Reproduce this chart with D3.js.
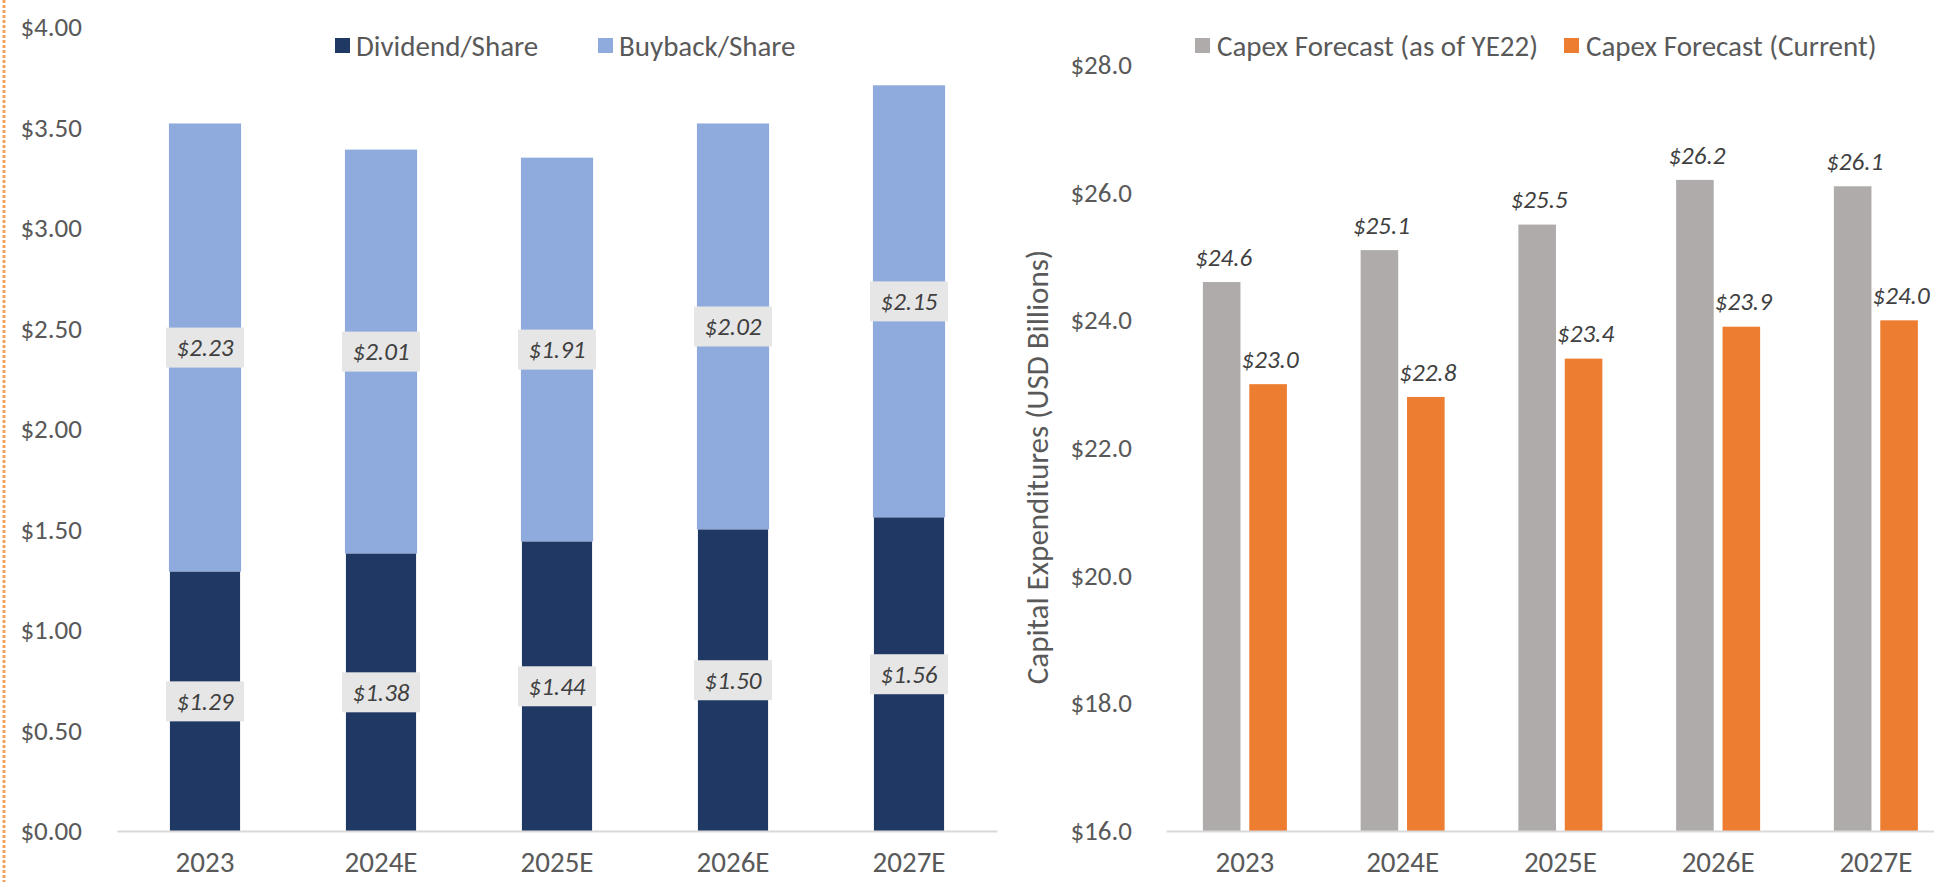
<!DOCTYPE html>
<html>
<head>
<meta charset="utf-8">
<script src="https://cdn.jsdelivr.net/npm/d3@7"></script>
<style>
  body { margin: 0; background: #fff; }
  svg { display: block; font-family: Carlito, Calibri, Lato, "Open Sans", sans-serif; }
</style>
</head>
<body>
<div id="chart"></div>
<script>
// data
const years = ["2023", "2024E", "2025E", "2026E", "2027E"];
const dividend = [1.29, 1.38, 1.44, 1.50, 1.56];
const buyback = [2.23, 2.01, 1.91, 2.02, 2.15];
const capexYE22 = [24.6, 25.1, 25.5, 26.2, 26.1];
const capexCurrent = [23.0, 22.8, 23.4, 23.9, 24.0];
const leftTicks = [0, 0.5, 1, 1.5, 2, 2.5, 3, 3.5, 4];
const rightTicks = [16, 18, 20, 22, 24, 26, 28];

const W = 1934, H = 882;
const textColor = "#595959";
const labelColor = "#404040";
const axisColor = "#d9d9d9";
const colors = {
    dividend: "#203864",
    buyback: "#8faadc",
    ye22: "#afabab",
    current: "#ed7d31"
};

const svg = d3.select("#chart").append("svg")
    .attr("width", W)
    .attr("height", H);

// dotted orange line at the left edge
svg.append("line")
    .attr("x1", 4).attr("x2", 4)
    .attr("y1", 0).attr("y2", H)
    .attr("stroke", "#f5a25d")
    .attr("stroke-width", 3)
    .attr("stroke-dasharray", "3,2");

const baseY = 831;

// axis text styling, drops d3's default font
function styleAxis(g, size) {
    g.attr("font-family", null).attr("font-size", null);
    g.selectAll("text")
        .style("font-size", size + "px")
        .attr("fill", textColor);
}

// ====================
// Left chart: stacked bars
// ====================
const xL = d3.scaleBand()
    .domain(years)
    .range([117, 997])
    .paddingInner(0.59)
    .paddingOuter(0.295);

const yL = d3.scaleLinear()
    .domain([0, 4])
    .range([baseY, 27]);

const left = svg.append("g");

// y axis labels
left.append("g")
    .attr("transform", "translate(117,0)")
    .call(d3.axisLeft(yL).tickValues(leftTicks).tickFormat(d3.format("$.2f")).tickSize(0).tickPadding(35))
    .call(g => g.select(".domain").remove())
    .call(g => styleAxis(g, 27));

// buyback on top
left.selectAll("rect.buyback")
    .data(years)
    .enter()
    .append("rect")
    .attr("class", "buyback")
    .attr("x", d => xL(d))
    .attr("width", xL.bandwidth())
    .attr("y", (d, i) => yL(dividend[i] + buyback[i]))
    .attr("height", (d, i) => yL(dividend[i]) - yL(dividend[i] + buyback[i]))
    .attr("fill", colors.buyback);

left.selectAll("rect.dividend")
    .data(years)
    .enter()
    .append("rect")
    .attr("class", "dividend")
    .attr("x", d => xL(d) + 1)
    .attr("width", xL.bandwidth() - 2)
    .attr("y", (d, i) => yL(dividend[i]))
    .attr("height", (d, i) => yL(0) - yL(dividend[i]))
    .attr("fill", colors.dividend);

// x axis
left.append("g")
    .attr("transform", `translate(0,${baseY})`)
    .call(d3.axisBottom(xL).tickSize(0).tickPadding(20))
    .call(g => g.select(".domain").attr("stroke", axisColor).attr("stroke-width", 2))
    .call(g => styleAxis(g, 29));

// segment labels with grey boxes
function boxLabel(g, cx, cy, txt) {
    g.append("rect")
        .attr("x", cx - 39)
        .attr("y", cy - 20)
        .attr("width", 78)
        .attr("height", 40)
        .attr("fill", "#e7e6e6");
    g.append("text")
        .attr("x", cx)
        .attr("y", cy)
        .attr("dy", "0.35em")
        .attr("text-anchor", "middle")
        .style("font-size", "25px")
        .style("font-style", "italic")
        .attr("fill", labelColor)
        .text(txt);
}

const fmt2 = d3.format("$.2f");
years.forEach((yr, i) => {
    const cx = xL(yr) + xL.bandwidth() / 2;
    boxLabel(left, cx, (yL(0) + yL(dividend[i])) / 2, fmt2(dividend[i]));
    boxLabel(left, cx, (yL(dividend[i]) + yL(dividend[i] + buyback[i])) / 2, fmt2(buyback[i]));
});

// legend
const legendL = [
    { name: "Dividend/Share", color: colors.dividend, x: 335 },
    { name: "Buyback/Share", color: colors.buyback, x: 598 }
];
legendL.forEach(l => {
    svg.append("rect").attr("x", l.x).attr("y", 38).attr("width", 15).attr("height", 15).attr("fill", l.color);
    svg.append("text").attr("x", l.x + 21).attr("y", 46).attr("dy", "0.35em")
        .style("font-size", "29px").attr("fill", textColor).text(l.name);
});

// ====================
// Right chart: grouped bars
// ====================
const xR = d3.scaleBand()
    .domain(years)
    .range([1166, 1166 + 157.75 * 5])
    .paddingInner(0.4675)
    .paddingOuter(0.23375);

const xSub = d3.scaleBand()
    .domain(["ye22", "current"])
    .range([0, xR.bandwidth()])
    .paddingInner(0.19);

const yR = d3.scaleLinear()
    .domain([16, 28])
    .range([baseY, 65]);

const right = svg.append("g");

right.append("g")
    .attr("transform", "translate(1166,0)")
    .call(d3.axisLeft(yR).tickValues(rightTicks).tickFormat(d3.format("$.1f")).tickSize(0).tickPadding(34))
    .call(g => g.select(".domain").remove())
    .call(g => styleAxis(g, 27));

const series = [
    { key: "ye22", values: capexYE22, color: colors.ye22 },
    { key: "current", values: capexCurrent, color: colors.current }
];

series.forEach(s => {
    right.selectAll(`rect.${s.key}`)
        .data(s.values)
        .enter()
        .append("rect")
        .attr("class", s.key)
        .attr("x", (d, i) => xR(years[i]) + xSub(s.key))
        .attr("width", xSub.bandwidth())
        .attr("y", d => yR(d))
        .attr("height", d => yR(16) - yR(d))
        .attr("fill", s.color);

    right.selectAll(`text.${s.key}`)
        .data(s.values)
        .enter()
        .append("text")
        .attr("class", s.key)
        .attr("x", (d, i) => xR(years[i]) + xSub(s.key) + xSub.bandwidth() / 2 + 2)
        .attr("y", d => yR(d) - 25)
        .attr("dy", "0.35em")
        .attr("text-anchor", "middle")
        .style("font-size", "25px")
        .style("font-style", "italic")
        .attr("fill", labelColor)
        .text(d => d3.format("$.1f")(d));
});

right.append("g")
    .attr("transform", `translate(0,${baseY})`)
    .call(d3.axisBottom(xR).tickSize(0).tickPadding(20))
    .call(g => g.select(".domain").attr("stroke", axisColor).attr("stroke-width", 2))
    .call(g => styleAxis(g, 29));

// y axis title
svg.append("text")
    .attr("transform", "translate(1037,467) rotate(-90)")
    .attr("dy", "0.35em")
    .attr("text-anchor", "middle")
    .style("font-size", "31px")
    .attr("fill", textColor)
    .text("Capital Expenditures (USD Billions)");

// legend
const legendR = [
    { name: "Capex Forecast (as of YE22)", color: colors.ye22, x: 1195 },
    { name: "Capex Forecast (Current)", color: colors.current, x: 1564 }
];
legendR.forEach(l => {
    svg.append("rect").attr("x", l.x).attr("y", 38).attr("width", 15).attr("height", 15).attr("fill", l.color);
    svg.append("text").attr("x", l.x + 22).attr("y", 46).attr("dy", "0.35em")
        .style("font-size", "29px").attr("fill", textColor).text(l.name);
});
</script>
</body>
</html>
